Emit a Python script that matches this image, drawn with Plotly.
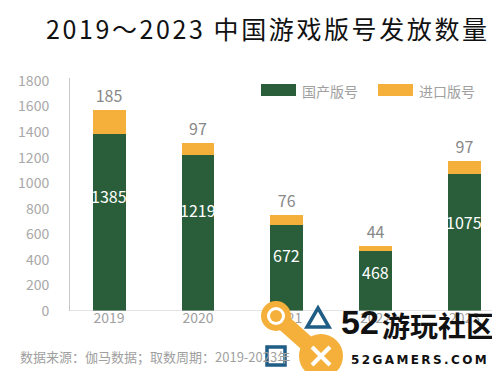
import plotly.graph_objects as go

years = ["2019", "2020", "2021", "2022", "2023"]
domestic = [1385, 1219, 672, 468, 1075]
imported = [185, 97, 76, 44, 97]
y_ticks = [0, 200, 400, 600, 800, 1000, 1200, 1400, 1600, 1800]

GREEN = "#2A5E3B"
ORANGE = "#F5B03B"
BLUE = "#1F5D86"
FONT = "Noto Sans CJK SC"

W, H = 500, 371
ML, MR, MT, MB = 62, 0, 70, 68
PW, PH = W - ML - MR, H - MT - MB


def px(x):
    return (x - ML) / PW


def py(y):
    return (H - MB - y) / PH


xs = list(range(len(years)))

fig = go.Figure()
fig.add_trace(go.Bar(
    x=xs, y=domestic, name="国产版号", marker=dict(color=GREEN, line=dict(width=0)),
    width=0.37,
))
fig.add_trace(go.Bar(
    x=xs, y=imported, name="进口版号", marker=dict(color=ORANGE, line=dict(width=0)),
    width=0.37, text=[str(v) for v in imported], textposition="outside", textangle=0,
    constraintext="none",
    textfont=dict(color="#888888", size=16, family=FONT), cliponaxis=False,
))

# white value labels inside the green bars
for xi, v in zip(xs, domestic):
    fig.add_annotation(x=xi, y=v * 0.65, xref="x", yref="y", text=str(v),
                       showarrow=False, xanchor="center", yanchor="middle",
                       font=dict(color="white", size=16, family=FONT))

fig.update_layout(
    barmode="stack",
    width=W, height=H,
    margin=dict(l=ML, r=MR, t=MT, b=MB),
    paper_bgcolor="white", plot_bgcolor="white",
    showlegend=False,
    font=dict(family=FONT, color="#999999"),
    title=dict(text='<span style="letter-spacing:2.6px">2019～2023 中国游戏版号发放数量</span>',
               x=38 / W, xanchor="left", xref="container",
               y=0.94, yanchor="middle", yref="container",
               font=dict(family=FONT, size=25, color="#111111")),
    xaxis=dict(range=[-0.44, 4.49], tickvals=xs, ticktext=years, showgrid=False,
               zeroline=False, showline=False, ticks="", ticklabelstandoff=-3,
               tickfont=dict(size=14, color="#A0A0A0", family=FONT)),
    yaxis=dict(range=[0, 1823], tickvals=y_ticks, showgrid=False, zeroline=False,
               showline=True, linecolor="#C8C8C8", linewidth=1, ticks="",
               ticklabelstandoff=17,
               tickfont=dict(size=14, color="#A8A8A8", family=FONT)),
)

# baseline
fig.add_shape(type="line", xref="paper", yref="y", x0=0, x1=1, y0=0, y1=0,
              line=dict(color="#C8C8C8", width=1))

# manual legend
for x0, col, label in [(253, GREEN, "国产版号"), (370, ORANGE, "进口版号")]:
    fig.add_shape(type="rect", xref="paper", yref="paper",
                  x0=px(x0), x1=px(x0 + 35), y0=py(88), y1=py(76),
                  fillcolor=col, line=dict(width=0))
    fig.add_annotation(xref="paper", yref="paper", x=px(x0 + 39), y=py(83),
                       text=label, showarrow=False, xanchor="left", yanchor="middle",
                       font=dict(size=14, color="#A0A0A0", family=FONT))

# source note
fig.add_annotation(xref="paper", yref="paper", x=px(10), y=py(348),
                   text="数据来源：伽马数据；取数周期：2019-2023年", showarrow=False,
                   xanchor="left", yanchor="middle",
                   font=dict(size=13, color="#A0A0A0", family=FONT))

# watermark logo (approximate)
fig.add_shape(type="line", xref="paper", yref="paper", x0=px(268), y0=py(308),
              x1=px(313), y1=py(348), line=dict(color=ORANGE, width=16))
fig.add_shape(type="circle", xref="paper", yref="paper", x0=px(253), x1=px(283),
              y0=py(323), y1=py(293), fillcolor=ORANGE, line=dict(width=0))
fig.add_shape(type="circle", xref="paper", yref="paper", x0=px(259), x1=px(277),
              y0=py(317), y1=py(299), fillcolor="white", line=dict(width=0))
fig.add_shape(type="circle", xref="paper", yref="paper", x0=px(262), x1=px(274),
              y0=py(314), y1=py(302), fillcolor=ORANGE, line=dict(width=0))
fig.add_shape(type="circle", xref="paper", yref="paper", x0=px(291), x1=px(335),
              y0=py(370), y1=py(326), fillcolor=ORANGE, line=dict(width=0))
fig.add_shape(type="line", xref="paper", yref="paper", x0=px(304), y0=py(339),
              x1=px(322), y1=py(357), line=dict(color="white", width=4))
fig.add_shape(type="line", xref="paper", yref="paper", x0=px(304), y0=py(357),
              x1=px(322), y1=py(339), line=dict(color="white", width=4))
fig.add_shape(type="path", xref="paper", yref="paper",
              path=f"M {px(299)},{py(319)} L {px(321)},{py(319)} L {px(310)},{py(300)} Z",
              line=dict(color=BLUE, width=3.5))
fig.add_shape(type="rect", xref="paper", yref="paper", x0=px(259), x1=px(277),
              y0=py(357), y1=py(339), line=dict(color=BLUE, width=3.5))

# watermark text
fig.add_annotation(xref="paper", yref="paper", x=px(331), y=py(314),
                   text="<b>52</b>", showarrow=False, xanchor="left", yanchor="middle",
                   font=dict(size=34, color="#111111", family="Liberation Sans Narrow, Liberation Sans"))
fig.add_annotation(xref="paper", yref="paper", x=px(372), y=py(317),
                   text="<b>游玩社区</b>", showarrow=False, xanchor="left", yanchor="middle",
                   font=dict(size=28, color="#111111", family=FONT))
fig.add_annotation(xref="paper", yref="paper", x=px(341), y=py(352),
                   text='<span style="letter-spacing:2.4px"><b>52GAMERS.COM</b></span>',
                   showarrow=False, xanchor="left",
                   yanchor="middle", font=dict(size=12, color="#111111", family="DejaVu Sans"))

fig.write_html("out.html")
